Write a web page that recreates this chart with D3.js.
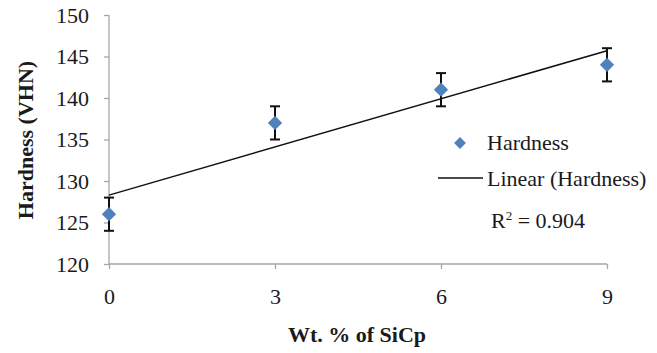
<!DOCTYPE html>
<html>
  <head>
    <meta charset="utf-8">
    <title></title>
    <style>
      body { margin: 0; background: #fff; }
    </style>
  </head>
  <body>
    <div id="chart"></div>
    <script src="https://d3js.org/d3.v7.min.js"></script>
    <script>
      const width = 657;
      const height = 353;
      const serif = '"Liberation Serif"';

      // data
      const wtPercent = [0, 3, 6, 9];
      const hardness = [126, 137, 141, 144];
      const errPlus = [2, 2, 2, 2];
      const errMinus = [2, 2, 2, 2];
      const xTicks = [0, 3, 6, 9];
      const yTicks = [120, 125, 130, 135, 140, 145, 150];
      const rSquared = '0.904';

      const svg = d3.select('#chart')
                    .append('svg')
                    .attr('width', width)
                    .attr('height', height)

      const x = d3.scaleLinear().domain([0, 9]).range([109, 607]);
      const y = d3.scaleLinear().domain([120, 150]).range([264, 15]);

      // axes
      const yAxis = svg.append('g')
        .attr('transform', 'translate(109,0)')
        .call(d3.axisLeft(y).tickValues(yTicks).tickSize(5).tickPadding(15));
      const xAxis = svg.append('g')
        .attr('transform', 'translate(0,264)')
        .call(d3.axisBottom(x).tickValues(xTicks).tickSize(5).tickPadding(19));

      [yAxis, xAxis].forEach(function(g) {
        g.attr('font-family', null).attr('font-size', null);
        g.selectAll('path, line').attr('stroke', '#a6a6a6').attr('stroke-width', 1.3);
        g.selectAll('text').style('font-family', serif).style('font-size', '22px').attr('fill', '#1a1a1a');
      });
      yAxis.select('.domain').attr('d', 'M0,15V264');
      xAxis.select('.domain').attr('d', 'M109,0H607');

      // linear trendline (least squares on the data)
      const n = wtPercent.length;
      const mx = d3.mean(wtPercent), my = d3.mean(hardness);
      let sxy = 0, sxx = 0;
      for (let i = 0; i < n; i++) {
        sxy += (wtPercent[i] - mx) * (hardness[i] - my);
        sxx += (wtPercent[i] - mx) * (wtPercent[i] - mx);
      }
      const slope = sxy / sxx;
      const intercept = my - slope * mx;

      svg.append('path')
        .datum([0, 9])
        .attr('d', d3.line().x(d => x(d)).y(d => y(intercept + slope * d)))
        .attr('stroke', '#111')
        .attr('stroke-width', 1.5)
        .attr('fill', 'none');

      // error bars
      const pts = wtPercent.map((w, i) => ({ w: w, h: hardness[i], hi: hardness[i] + errPlus[i], lo: hardness[i] - errMinus[i] }));
      const err = svg.append('g').attr('stroke', '#111').attr('stroke-width', 2);
      err.selectAll('.bar').data(pts).enter().append('line')
        .attr('x1', d => x(d.w)).attr('x2', d => x(d.w))
        .attr('y1', d => y(d.hi)).attr('y2', d => y(d.lo));
      err.selectAll('.capHi').data(pts).enter().append('line')
        .attr('x1', d => x(d.w) - 5).attr('x2', d => x(d.w) + 5)
        .attr('y1', d => y(d.hi)).attr('y2', d => y(d.hi));
      err.selectAll('.capLo').data(pts).enter().append('line')
        .attr('x1', d => x(d.w) - 5).attr('x2', d => x(d.w) + 5)
        .attr('y1', d => y(d.lo)).attr('y2', d => y(d.lo));

      // markers
      const diamond = d3.symbol().type(d3.symbolDiamond2).size(130);
      svg.selectAll('.pt').data(pts).enter().append('path')
        .attr('d', diamond)
        .attr('transform', d => 'translate(' + x(d.w) + ',' + y(d.h) + ')')
        .attr('fill', '#4f81bd');

      const label = function(xp, yp) {
        return svg.append('text').attr('x', xp).attr('y', yp)
          .style('font-family', serif).style('font-size', '22px').attr('fill', '#1a1a1a');
      }

      // legend
      svg.append('path')
        .attr('d', d3.symbol().type(d3.symbolDiamond2).size(90))
        .attr('transform', 'translate(460,143)')
        .attr('fill', '#4f81bd');
      label(487, 150).text('Hardness');
      svg.append('line')
        .attr('x1', 438).attr('x2', 483).attr('y1', 178).attr('y2', 178)
        .attr('stroke', '#111').attr('stroke-width', 1.5);
      label(487, 186).text('Linear (Hardness)');

      const r2 = label(491, 228);
      r2.append('tspan').text('R');
      r2.append('tspan').attr('dy', -8).style('font-size', '13px').text('2');
      r2.append('tspan').attr('dy', 8).text(' = ' + rSquared);

      // axis titles
      label(357, 342)
        .attr('text-anchor', 'middle')
        .style('font-weight', 'bold')
        .text('Wt. % of SiCp');
      label(0, 0)
        .attr('transform', 'translate(33,140) rotate(-90)')
        .attr('text-anchor', 'middle')
        .style('font-weight', 'bold')
        .text('Hardness (VHN)');
    </script>
  </body>
</html>
